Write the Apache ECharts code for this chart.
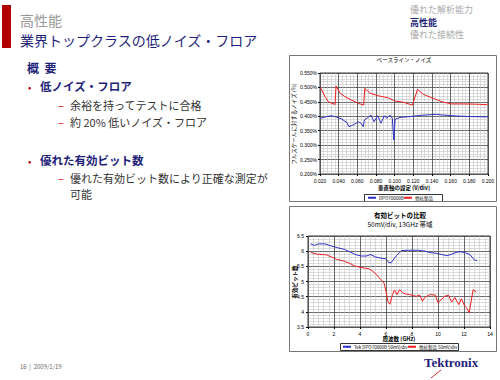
<!DOCTYPE html>
<html><head><meta charset="utf-8">
<script src="https://cdn.jsdelivr.net/npm/echarts@6/dist/echarts.min.js"></script>
<style>html,body{margin:0;padding:0;background:#fff}#c{width:500px;height:380px}</style>
</head><body><div id="c"></div>
<script>
// ---- Top chart: baseline noise ----
const noiseRedX = [0.0205,0.0255,0.029,0.0361,0.0372,0.0414,0.0468,0.054,0.061,0.0667,0.068,0.0735,0.0825,0.0932,0.100,0.109,0.119,0.1245,0.1306,0.1414,0.152,0.161,0.1735,0.188,0.1995];
const noiseRedY = [0.500,0.468,0.450,0.441,0.505,0.480,0.468,0.456,0.445,0.439,0.497,0.480,0.471,0.464,0.453,0.449,0.439,0.493,0.476,0.462,0.449,0.443,0.443,0.442,0.440];
const noiseBlueX = [0.0205,0.027,0.0325,0.038,0.043,0.0489,0.051,0.0556,0.061,0.064,0.0664,0.0675,0.071,0.0746,0.078,0.0818,0.0853,0.0889,0.0914,0.095,0.0975,0.0990,0.1005,0.1057,0.1164,0.127,0.145,0.1486,0.1664,0.1807,0.1995];
const noiseBlueY = [0.393,0.399,0.402,0.397,0.391,0.378,0.364,0.370,0.381,0.376,0.364,0.387,0.395,0.404,0.381,0.402,0.376,0.402,0.393,0.404,0.393,0.318,0.390,0.396,0.399,0.403,0.407,0.405,0.401,0.399,0.398];
const noiseNames = ['DPO70000B','他社製品'];

// ---- Bottom chart: effective bits ----
const enobBlueX = [0.2,0.5,0.8,1.3,1.8,2.3,2.8,3.3,3.7,4.1,4.5,4.8,5.2,5.7,6.0,6.2,6.4,6.8,7.2,7.7,8.5,9.0,9.4,9.9,10.3,10.7,11.05,11.4,11.7,12.1,12.45,12.8,13.0];
const enobBlueY = [6.24,6.19,6.24,6.24,6.17,6.11,6.06,5.96,5.88,5.84,5.84,5.89,5.81,5.76,5.75,5.63,5.62,5.85,6.02,6.03,6.03,6.00,5.95,5.93,5.89,5.85,5.90,5.96,5.98,5.95,5.89,5.71,5.69];
const enobRedX = [0.2,0.7,1.1,1.4,1.8,2.2,2.7,3.2,3.6,4.0,4.4,4.7,5.0,5.25,5.6,5.85,6.0,6.15,6.3,6.5,6.65,6.85,7.05,7.3,7.5,7.8,8.0,8.3,8.6,8.8,9.0,9.4,9.8,10.0,10.3,10.5,10.8,11.05,11.3,11.6,11.8,12.05,12.2,12.4,12.7,12.95];
const enobRedY = [5.96,5.90,5.89,5.88,5.81,5.73,5.68,5.60,5.51,5.47,5.44,5.42,5.33,5.24,5.06,4.95,4.67,4.33,4.25,4.57,4.72,4.57,4.73,4.62,4.59,4.57,4.55,4.51,4.55,4.35,4.48,4.57,4.55,4.30,4.42,4.51,4.55,4.32,4.47,4.24,4.43,4.19,4.13,3.97,4.73,4.65];
const enobNames = ['Tek DPO70000B 50mV/div','他社製品 50mV/div'];

const pairs = (xs, ys) => xs.map((x, i) => [x, ys[i]]);
const JP = '"Noto Sans CJK JP", sans-serif';
const NAVY = '#1f1f7a';
const BLUE = '#3030c8';
const RED = '#f02020';

function txt(x, y, text, size, color, extra) {
  extra = extra || {};
  const el = {type:'text', x:x, y:y, style:{text:text, font:(extra.weight||'normal')+' '+size+'px '+JP, fill:color, textVerticalAlign:'middle', textAlign:extra.align||'left'}};
  if (extra.rot) el.rotation = extra.rot;
  return el;
}

const axisLabelSmall = {fontSize:5, color:'#000', fontFamily:'Arial'};
const majorLine = {show:true, lineStyle:{color:'#444', width:0.8}};
const minorLine = {show:true, lineStyle:{color:'#bbb', width:0.5}};
function legendItem(name, left, top) {
  return {data:[name], left:left, top:top, orient:'horizontal', itemWidth:8, itemHeight:2, itemGap:0, padding:0,
    textStyle:{fontSize:4.5, fontFamily:JP, color:'#000', padding:[0,0,0,-2]}};
}

const chart = echarts.init(document.getElementById('c'), null, {renderer:'svg'});
chart.setOption({
  animation:false,
  backgroundColor:'#fff',
  graphic:[
    {type:'rect', shape:{x:2, y:5, width:9, height:43}, style:{fill:'#b00000'}},
    txt(20, 20, '高性能', 14, '#999'),
    txt(20, 40, '業界トップクラスの低ノイズ・フロア', 14, NAVY),
    txt(410, 9, '優れた解析能力', 9, '#aaa'),
    txt(410, 22, '高性能', 9, NAVY, {weight:'bold'}),
    txt(410, 34, '優れた接続性', 9, '#aaa'),
    txt(27, 67, '概  要', 12, NAVY, {weight:'bold'}),
    txt(28, 86, '•', 10, '#c00000'),
    txt(40, 86, '低ノイズ・フロア', 11.5, NAVY, {weight:'bold'}),
    txt(58, 105, '–', 11, '#c00000'),
    txt(70, 105, '余裕を持ってテストに合格', 11, '#333'),
    txt(58, 122, '–', 11, '#c00000'),
    txt(70, 122, '約 20% 低いノイズ・フロア', 11, '#333'),
    txt(28, 160, '•', 10, '#c00000'),
    txt(40, 160, '優れた有効ビット数', 11.5, NAVY, {weight:'bold'}),
    txt(58, 178, '–', 11, '#c00000'),
    txt(70, 178, '優れた有効ビット数により正確な測定が', 11, '#333'),
    txt(70, 194, '可能', 11, '#333'),
    txt(20, 366, '16  |  2009/1/19', 6, '#666'),
    {type:'text', x:424, y:362, style:{text:'Tektronix', font:'bold 13px "Liberation Serif", serif', fill:NAVY, textVerticalAlign:'middle'}},
    {type:'line', shape:{x1:431, y1:378, x2:441, y2:370}, style:{stroke:'#d03030', lineWidth:1}},
    {type:'rect', shape:{x:289.5, y:55.5, width:207, height:146}, style:{fill:'none', stroke:'#777', lineWidth:1}},
    {type:'rect', shape:{x:289.5, y:206.5, width:207, height:145}, style:{fill:'none', stroke:'#777', lineWidth:1}},
    // legend frames
    {type:'rect', shape:{x:364.5, y:194.5, width:78, height:7}, style:{fill:'#fff', stroke:'#000', lineWidth:0.8}, z:-1},
    {type:'rect', shape:{x:340.5, y:343.5, width:118, height:7}, style:{fill:'#fff', stroke:'#000', lineWidth:0.8}, z:-1},
    txt(404, 60, 'ベースライン・ノイズ', 5.5, '#000', {align:'center'}),
    txt(400, 215, '有効ビットの比較', 6.5, '#000', {align:'center', weight:'bold'}),
    txt(400, 224, '50mV/div, 13GHz 帯域', 6.5, '#000', {align:'center'}),
    txt(404, 188, '垂直軸の設定 (V/div)', 5.5, '#000', {align:'center', weight:'bold'}),
    txt(399, 339, '周波数 (GHz)', 5.5, '#000', {align:'center', weight:'bold'}),
    txt(294, 124, 'フルスケールに対するノイズ (%)', 5.5, '#000', {align:'center', rot:Math.PI/2}),
    txt(295, 282, '有効ビット数', 5.5, '#000', {align:'center', rot:Math.PI/2, weight:'bold'})
  ],
  grid:[
    {left:320, top:73, width:168, height:101, show:true, borderColor:'#000', borderWidth:0.8, backgroundColor:'#fff'},
    {left:308, top:236, width:182, height:91, show:true, borderColor:'#000', borderWidth:0.8, backgroundColor:'#fff'}
  ],
  xAxis:[
    {type:'value', gridIndex:0, min:0.02, max:0.2, interval:0.02,
     axisLine:{show:false}, axisTick:{show:true, length:2, lineStyle:{color:'#000'}},
     axisLabel:Object.assign({margin:4, formatter:v=>v.toFixed(3)}, axisLabelSmall),
     splitLine:majorLine, minorTick:{show:false, splitNumber:5}, minorSplitLine:minorLine},
    {type:'value', gridIndex:1, min:0, max:14, interval:2,
     axisLine:{show:false}, axisTick:{show:true, length:2, lineStyle:{color:'#000'}},
     axisLabel:Object.assign({margin:4}, axisLabelSmall),
     splitLine:majorLine, minorTick:{show:false, splitNumber:5}, minorSplitLine:minorLine}
  ],
  yAxis:[
    {type:'value', gridIndex:0, min:0.2, max:0.55, interval:0.05,
     axisLine:{show:false}, axisTick:{show:true, length:2, lineStyle:{color:'#000'}},
     axisLabel:Object.assign({margin:3, formatter:v=>v.toFixed(3)+'%'}, axisLabelSmall),
     splitLine:majorLine, minorTick:{show:false, splitNumber:5}, minorSplitLine:minorLine},
    {type:'value', gridIndex:1, min:3.5, max:6.5, interval:0.5,
     axisLine:{show:false}, axisTick:{show:true, length:2, lineStyle:{color:'#000'}},
     axisLabel:Object.assign({margin:4}, axisLabelSmall),
     splitLine:majorLine, minorTick:{show:false, splitNumber:5}, minorSplitLine:minorLine}
  ],
  legend:[
    legendItem(noiseNames[0], 367, 195.5),
    legendItem(noiseNames[1], 403, 195.5),
    legendItem(enobNames[0], 342, 344.5),
    legendItem(enobNames[1], 407, 344.5)
  ],
  series:[
    {name:noiseNames[0], type:'line', xAxisIndex:0, yAxisIndex:0, data:pairs(noiseBlueX, noiseBlueY), showSymbol:false, symbol:'none', lineStyle:{color:BLUE, width:1}, itemStyle:{color:BLUE}},
    {name:noiseNames[1], type:'line', xAxisIndex:0, yAxisIndex:0, data:pairs(noiseRedX, noiseRedY), showSymbol:false, symbol:'none', lineStyle:{color:RED, width:1}, itemStyle:{color:RED}},
    {name:enobNames[0], type:'line', xAxisIndex:1, yAxisIndex:1, data:pairs(enobBlueX, enobBlueY), showSymbol:false, symbol:'none', lineStyle:{color:BLUE, width:1}, itemStyle:{color:BLUE}},
    {name:enobNames[1], type:'line', xAxisIndex:1, yAxisIndex:1, data:pairs(enobRedX, enobRedY), showSymbol:false, symbol:'none', lineStyle:{color:RED, width:1}, itemStyle:{color:RED}}
  ]
});
</script></body></html>
